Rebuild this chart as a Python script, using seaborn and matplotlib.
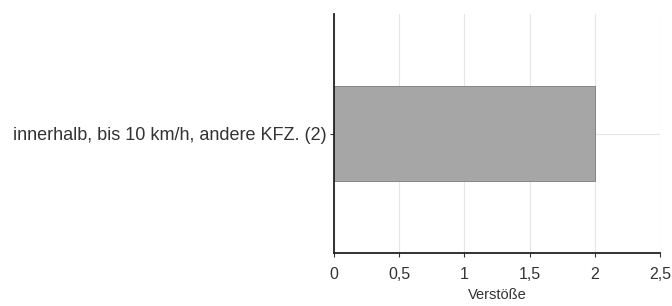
import pandas as pd
import seaborn as sns
import matplotlib.pyplot as plt
from matplotlib.ticker import FuncFormatter

categories = ["innerhalb, bis 10 km/h, andere KFZ. (2)"]
verstoesse = [2]
x_ticks = [0, 0.5, 1, 1.5, 2, 2.5]

df = pd.DataFrame({"Kategorie": categories, "Verstöße": verstoesse})

sns.set_theme(style="whitegrid")
plt.rcParams["font.family"] = ["Liberation Sans", "DejaVu Sans"]

fig = plt.figure(figsize=(6.72, 3.06), dpi=100)
ax = fig.add_axes([0.497, 0.173, 0.485, 0.781])

sns.barplot(data=df, x="Verstöße", y="Kategorie", color="#a6a6a6",
            saturation=1, width=0.4, edgecolor="#7a7a7a", linewidth=0.6, ax=ax)

ax.set_xlim(0, 2.5)
ax.set_ylim(0.5, -0.5)
ax.set_xticks(x_ticks)
ax.xaxis.set_major_formatter(FuncFormatter(lambda v, p: f"{v:g}".replace(".", ",")))
ax.set_xlabel("Verstöße", fontsize=10.5, color="#333333", labelpad=4)
ax.set_ylabel("")

ax.grid(True, color="#e6e6e6", linewidth=0.8)
for side in ["top", "right"]:
    ax.spines[side].set_visible(False)
for side in ["left", "bottom"]:
    ax.spines[side].set_visible(True)
    ax.spines[side].set_color("#222222")
    ax.spines[side].set_linewidth(1.3)

ax.tick_params(axis="both", colors="#333333", length=3, width=0.8,
               direction="out", left=True, bottom=True)
ax.tick_params(axis="x", pad=7, labelsize=11.5)
ax.tick_params(axis="y", pad=2, labelsize=13)

fig.savefig("out.png", dpi=100)
